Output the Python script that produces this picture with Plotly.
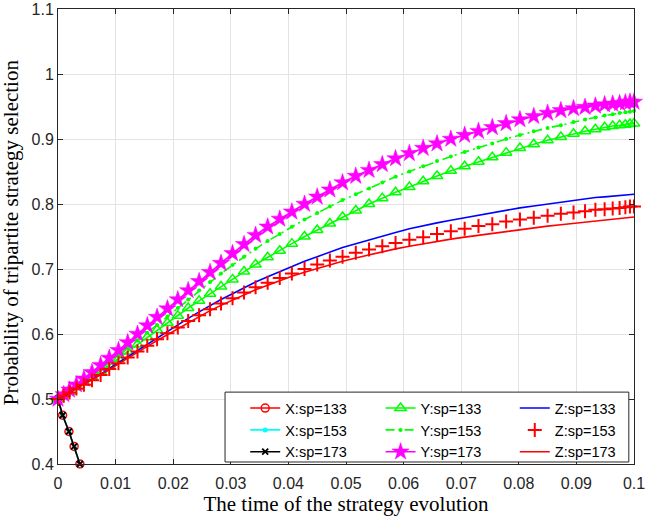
import plotly.graph_objects as go

# time grid of the solver output
t = [0, 0.001, 0.002, 0.0032, 0.0045, 0.0059, 0.0074, 0.0089, 0.0105, 0.0121,
     0.0138, 0.0155, 0.0172, 0.019, 0.0208, 0.0226, 0.0245, 0.0264, 0.0283, 0.0303,
     0.0323, 0.0343, 0.0364, 0.0385, 0.0406, 0.0428, 0.045, 0.0472, 0.0494, 0.0517,
     0.054, 0.0563, 0.0586, 0.061, 0.0634, 0.0658, 0.0682, 0.0706, 0.073, 0.0754,
     0.0778, 0.0802, 0.0826, 0.085, 0.0873, 0.0895, 0.0915, 0.0933, 0.0949, 0.0963,
     0.0975, 0.0985, 0.0993, 0.1]

# X curves leave the visible range almost at once
t_x = [0, 0.0008, 0.0019, 0.0028, 0.0038]
x133 = [0.5, 0.475, 0.45, 0.427, 0.4]
x153 = [0.5, 0.475, 0.45, 0.427, 0.4]
x173 = [0.5, 0.475, 0.45, 0.427, 0.4]

y133 = [0.500, 0.506, 0.511, 0.518, 0.526, 0.534, 0.543, 0.552, 0.562, 0.573,
        0.584, 0.595, 0.606, 0.617, 0.628, 0.640, 0.651, 0.662, 0.673, 0.684,
        0.696, 0.707, 0.718, 0.728, 0.739, 0.750, 0.760, 0.770, 0.780, 0.790,
        0.800, 0.809, 0.818, 0.826, 0.835, 0.843, 0.851, 0.858, 0.865, 0.872,
        0.879, 0.886, 0.892, 0.898, 0.903, 0.908, 0.912, 0.915, 0.918, 0.920,
        0.921, 0.922, 0.923, 0.924]
y153 = [0.500, 0.506, 0.512, 0.519, 0.527, 0.536, 0.546, 0.556, 0.567, 0.578,
        0.590, 0.602, 0.614, 0.627, 0.640, 0.653, 0.667, 0.680, 0.693, 0.706,
        0.719, 0.731, 0.743, 0.754, 0.765, 0.776, 0.786, 0.796, 0.806, 0.815,
        0.824, 0.833, 0.842, 0.850, 0.858, 0.866, 0.873, 0.880, 0.887, 0.893,
        0.900, 0.906, 0.912, 0.917, 0.921, 0.926, 0.930, 0.933, 0.936, 0.938,
        0.940, 0.941, 0.942, 0.943]
y173 = [0.500, 0.507, 0.514, 0.522, 0.531, 0.541, 0.552, 0.563, 0.575, 0.587,
        0.600, 0.613, 0.626, 0.639, 0.653, 0.667, 0.681, 0.695, 0.709, 0.724,
        0.738, 0.752, 0.765, 0.777, 0.788, 0.800, 0.811, 0.822, 0.833, 0.843,
        0.852, 0.861, 0.870, 0.878, 0.886, 0.893, 0.900, 0.906, 0.912, 0.918,
        0.924, 0.930, 0.935, 0.940, 0.944, 0.947, 0.949, 0.951, 0.953, 0.954,
        0.955, 0.956, 0.957, 0.957]

z133 = [0.500, 0.505, 0.510, 0.516, 0.523, 0.530, 0.538, 0.547, 0.556, 0.565,
        0.575, 0.585, 0.594, 0.604, 0.614, 0.624, 0.634, 0.644, 0.653, 0.662,
        0.671, 0.680, 0.688, 0.696, 0.704, 0.712, 0.719, 0.726, 0.733, 0.739,
        0.745, 0.751, 0.756, 0.762, 0.767, 0.771, 0.775, 0.779, 0.782, 0.786,
        0.790, 0.794, 0.797, 0.800, 0.803, 0.806, 0.808, 0.810, 0.811, 0.812,
        0.813, 0.814, 0.815, 0.815]
z153 = [0.500, 0.505, 0.510, 0.516, 0.522, 0.529, 0.537, 0.546, 0.555, 0.564,
        0.573, 0.582, 0.592, 0.601, 0.610, 0.620, 0.629, 0.638, 0.647, 0.655,
        0.664, 0.672, 0.679, 0.686, 0.693, 0.700, 0.707, 0.713, 0.719, 0.725,
        0.730, 0.735, 0.740, 0.745, 0.749, 0.754, 0.758, 0.762, 0.766, 0.769,
        0.773, 0.776, 0.779, 0.782, 0.785, 0.787, 0.789, 0.791, 0.792, 0.793,
        0.794, 0.795, 0.796, 0.796]
z173 = [0.500, 0.505, 0.510, 0.516, 0.522, 0.529, 0.537, 0.545, 0.554, 0.563,
        0.572, 0.581, 0.590, 0.599, 0.609, 0.618, 0.627, 0.636, 0.644, 0.652,
        0.660, 0.668, 0.675, 0.682, 0.689, 0.695, 0.701, 0.707, 0.712, 0.717,
        0.722, 0.727, 0.731, 0.735, 0.739, 0.743, 0.746, 0.749, 0.752, 0.755,
        0.758, 0.761, 0.764, 0.766, 0.768, 0.770, 0.772, 0.774, 0.775, 0.776,
        0.777, 0.778, 0.779, 0.780]

x_ticks = [0, 0.01, 0.02, 0.03, 0.04, 0.05, 0.06, 0.07, 0.08, 0.09, 0.1]
x_ticktext = ["0", "0.01", "0.02", "0.03", "0.04", "0.05", "0.06", "0.07", "0.08", "0.09", "0.1"]
y_ticks = [0.4, 0.5, 0.6, 0.7, 0.8, 0.9, 1.0, 1.1]
y_ticktext = ["0.4", "0.5", "0.6", "0.7", "0.8", "0.9", "1", "1.1"]

RED, GREEN, BLUE = "#ff0000", "#00ff00", "#0000ff"
CYAN, MAGENTA, BLACK = "#00ffff", "#ff00ff", "#000000"

fig = go.Figure()

def add(x, y, name, legend, color, mode="lines+markers", dash="solid",
        symbol="circle", size=6, mline=1.5, width=1.6):
    fig.add_trace(go.Scatter(
        x=x, y=y, name=name, mode=mode, legend=legend, cliponaxis=False,
        line=dict(color=color, width=width, dash=dash),
        marker=dict(symbol=symbol, size=size, color=color,
                    line=dict(color=color, width=mline)),
    ))

add(t_x, x133, "X:sp=133", "legend", RED, symbol="circle-open", size=8)
add(t_x, x153, "X:sp=153", "legend", CYAN, symbol="circle", size=5, mline=0)
add(t_x, x173, "X:sp=173", "legend", BLACK, symbol="x-thin-open", size=6, mline=1.8)
add(t, y133, "Y:sp=133", "legend2", GREEN, symbol="triangle-up-open", size=10)
add(t, y153, "Y:sp=153", "legend2", GREEN, dash="9px,4px,2px,4px", symbol="circle",
    size=4, mline=0)
add(t, y173, "Y:sp=173", "legend2", MAGENTA, symbol="star", size=13, mline=0.5)
add(t, z133, "Z:sp=133", "legend3", BLUE, mode="lines")
add(t, z153, "Z:sp=153", "legend3", RED, mode="markers", symbol="cross-thin-open",
    size=10, mline=2)
add(t, z173, "Z:sp=173", "legend3", RED, mode="lines")

axis_style = dict(
    showline=True, linecolor="#262626", linewidth=1, mirror="ticks",
    ticks="inside", ticklen=5, tickcolor="#262626", automargin=False,
    ticklabeloverflow="allow",
    showgrid=True, gridcolor="#e3e3e3", gridwidth=1, zeroline=False,
    tickfont=dict(family="Liberation Sans, Arial, sans-serif", size=16, color="#262626"),
)

leg = dict(
    font=dict(family="Liberation Sans, Arial, sans-serif", size=14.5, color="#000000"),
    bgcolor="rgba(0,0,0,0)", borderwidth=0, orientation="v",
    xanchor="left", yanchor="top", y=0.158, tracegroupgap=0,
)

serif = dict(family="Liberation Serif, Times New Roman, serif", size=21, color="#000000")

fig.update_layout(
    width=646, height=516,
    margin=dict(l=58, r=12, t=9, b=52),
    paper_bgcolor="white", plot_bgcolor="white",
    showlegend=True,
    xaxis=dict(range=[0, 0.1], tickvals=x_ticks, ticktext=x_ticktext,
               ticklabelstandoff=5,
               title=dict(text="The time of the strategy evolution", standoff=2, font=serif),
               **axis_style),
    yaxis=dict(range=[0.4, 1.1], tickvals=y_ticks, ticktext=y_ticktext, **axis_style),
    annotations=[dict(text="Probability of tripartite strategy selection",
                      xref="paper", yref="paper", x=-0.081, y=0.51,
                      xanchor="center", yanchor="middle", textangle=-90,
                      showarrow=False, font=serif)],
    legend=dict(x=0.325, **leg),
    legend2=dict(x=0.56, **leg),
    legend3=dict(x=0.793, **leg),
    shapes=[dict(type="rect", xref="paper", yref="paper",
                 x0=0.290, x1=0.991, y0=0.0044, y1=0.158,
                 line=dict(color="#262626", width=1), fillcolor="white",
                 layer="above")],
)

# drop the default page margin so the figure sits at the window's corner
fig.write_html("out.html", config={"displayModeBar": False},
               post_script="document.body.style.margin = '0';")
